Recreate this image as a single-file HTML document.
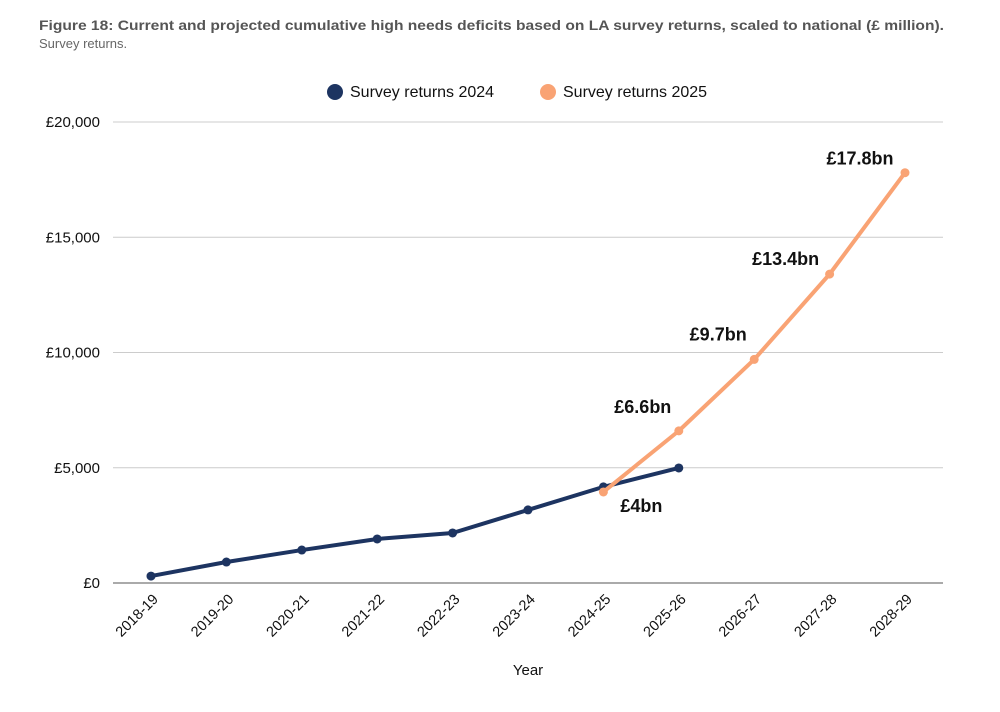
<!DOCTYPE html>
<html><head><meta charset="utf-8"><style>
body{margin:0;background:#fff;font-family:"Liberation Sans",sans-serif;}
svg{display:block}
</style></head><body>
<svg width="1000" height="712" id="chart">
<text x="39" y="30" font-size="13.5" font-weight="bold" fill="#555" textLength="905" lengthAdjust="spacingAndGlyphs">Figure 18: Current and projected cumulative high needs deficits based on LA survey returns, scaled to national (£ million).</text>
<text x="39" y="48" font-size="13" fill="#666">Survey returns.</text>
<g>
<circle cx="335" cy="92" r="8" fill="#1d3461"/>
<text x="350" y="97" font-size="16" fill="#111">Survey returns 2024</text>
<circle cx="548" cy="92" r="8" fill="#f9a374"/>
<text x="563" y="97" font-size="16" fill="#111">Survey returns 2025</text>
</g>
<g id="grid"></g><g id="marks"></g>
<text x="528" y="675" font-size="15" text-anchor="middle" fill="#111">Year</text>
</svg>
<script>
const categories=["2018-19","2019-20","2020-21","2021-22","2022-23","2023-24","2024-25","2025-26","2026-27","2027-28","2028-29"];
const yTicks=[0,5000,10000,15000,20000];
const yTickLabels=["£0","£5,000","£10,000","£15,000","£20,000"];
const series2024=[300,910,1430,1910,2170,3170,4170,4990];
const series2025Start=6;
const series2025=[3950,6600,9700,13400,17800];
const labels2025=["£4bn","£6.6bn","£9.7bn","£13.4bn","£17.8bn"];
const NS="http://www.w3.org/2000/svg";
const x=i=>151+i*75.4, y=v=>583-v*461/20000;
const labelDx=[38,-36,-36,-44,-45], labelDy=[20,-18,-19,-9,-8];
function mk(t,a,p){const e=document.createElementNS(NS,t);for(const k in a)e.setAttribute(k,a[k]);p.appendChild(e);return e;}
const g=document.getElementById('grid'), m=document.getElementById('marks');
yTicks.forEach((v,i)=>{
 const l=mk('line',{x1:113,x2:943,y1:y(v),y2:y(v),stroke:i==0?'#555':'#ccc','stroke-width':1},g);
 
 
 const t=mk('text',{x:100,y:y(v)+5,'font-size':15,'text-anchor':'end',fill:'#111'},g);
 t.textContent=yTickLabels[i];
 
 
});
categories.forEach((c,i)=>{
 const t=mk('text',{x:x(i)+8,y:600,'font-size':14.5,'text-anchor':'end',fill:'#111',transform:`rotate(-45 ${x(i)+8} 600)`},g);
 t.textContent=c;
 
 
});
function line(vals,off,col,name){
 const p=mk('polyline',{points:vals.map((v,i)=>x(i+off)+','+y(v)).join(' '),fill:'none',stroke:col,'stroke-width':4,'stroke-linejoin':'round'},m);
 
 
 vals.forEach((v,i)=>{const c=mk('circle',{cx:x(i+off),cy:y(v),r:4.5,fill:col},m);
 
 });
}
line(series2024,0,'#1d3461','series-2024');
line(series2025,series2025Start,'#f9a374','series-2025');
series2025.forEach((v,i)=>{
 const t=mk('text',{x:x(i+series2025Start)+labelDx[i],y:y(v)+labelDy[i],'font-size':18,'font-weight':'bold','text-anchor':'middle',fill:'#111'},m);
 t.textContent=labels2025[i];
 
 
});
</script>
</body></html>
